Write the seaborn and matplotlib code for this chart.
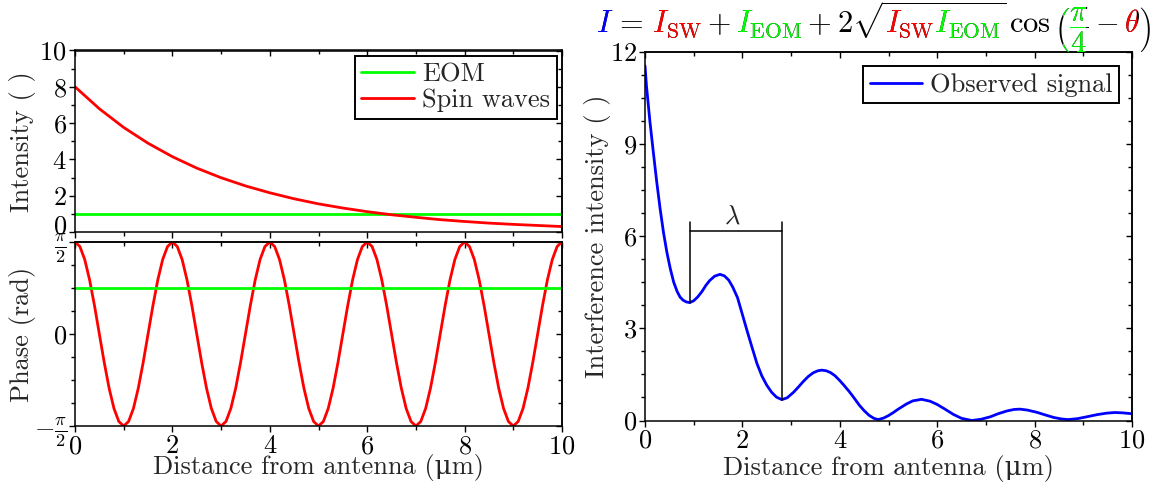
import numpy as np
import pandas as pd
import matplotlib
matplotlib.use("Agg")
import matplotlib.pyplot as plt
from matplotlib.ticker import MultipleLocator, FixedLocator, FixedFormatter
from matplotlib.transforms import Bbox, offset_copy
from matplotlib.font_manager import FontProperties
import seaborn as sns

# ---------------- data ----------------
spin_x = [0.0, 0.5, 1.0, 1.5, 2.0, 2.5, 3.0, 3.5, 4.0, 4.5, 5.0,
          5.5, 6.0, 6.5, 7.0, 7.5, 8.0, 8.5, 9.0, 9.5, 10.0]
spin_intensity = [8.00, 6.79, 5.76, 4.89, 4.15, 3.52, 2.99, 2.54, 2.16, 1.83, 1.55,
                  1.32, 1.12, 0.95, 0.81, 0.68, 0.58, 0.49, 0.42, 0.36, 0.30]
eom_x = [0.0, 10.0]
eom_intensity = [1.0, 1.0]

phase_x = [0.0, 0.1, 0.2, 0.3, 0.4, 0.5, 0.6, 0.7, 0.8, 0.9,
           1.0, 1.1, 1.2, 1.3, 1.4, 1.5, 1.6, 1.7, 1.8, 1.9,
           2.0, 2.1, 2.2, 2.3, 2.4, 2.5, 2.6, 2.7, 2.8, 2.9,
           3.0, 3.1, 3.2, 3.3, 3.4, 3.5, 3.6, 3.7, 3.8, 3.9,
           4.0, 4.1, 4.2, 4.3, 4.4, 4.5, 4.6, 4.7, 4.8, 4.9,
           5.0, 5.1, 5.2, 5.3, 5.4, 5.5, 5.6, 5.7, 5.8, 5.9,
           6.0, 6.1, 6.2, 6.3, 6.4, 6.5, 6.6, 6.7, 6.8, 6.9,
           7.0, 7.1, 7.2, 7.3, 7.4, 7.5, 7.6, 7.7, 7.8, 7.9,
           8.0, 8.1, 8.2, 8.3, 8.4, 8.5, 8.6, 8.7, 8.8, 8.9,
           9.0, 9.1, 9.2, 9.3, 9.4, 9.5, 9.6, 9.7, 9.8, 9.9, 10.0]
spin_phase = [1.571, 1.494, 1.271, 0.923, 0.485, 0.0, -0.485, -0.923, -1.271, -1.494,
              -1.571, -1.494, -1.271, -0.923, -0.485, 0.0, 0.485, 0.923, 1.271, 1.494,
              1.571, 1.494, 1.271, 0.923, 0.485, 0.0, -0.485, -0.923, -1.271, -1.494,
              -1.571, -1.494, -1.271, -0.923, -0.485, 0.0, 0.485, 0.923, 1.271, 1.494,
              1.571, 1.494, 1.271, 0.923, 0.485, 0.0, -0.485, -0.923, -1.271, -1.494,
              -1.571, -1.494, -1.271, -0.923, -0.485, 0.0, 0.485, 0.923, 1.271, 1.494,
              1.571, 1.494, 1.271, 0.923, 0.485, 0.0, -0.485, -0.923, -1.271, -1.494,
              -1.571, -1.494, -1.271, -0.923, -0.485, 0.0, 0.485, 0.923, 1.271, 1.494,
              1.571, 1.494, 1.271, 0.923, 0.485, 0.0, -0.485, -0.923, -1.271, -1.494,
              -1.571, -1.494, -1.271, -0.923, -0.485, 0.0, 0.485, 0.923, 1.271, 1.494,
              1.571]
eom_phase = [0.785, 0.785]

obs_x = [0.00, 0.03, 0.10, 0.17, 0.24, 0.31, 0.38, 0.45, 0.52, 0.59, 0.66, 0.72,
         0.78, 0.85, 0.92, 1.00, 1.08, 1.17, 1.25, 1.33, 1.43, 1.54, 1.63, 1.72,
         1.80, 1.90, 2.00, 2.10, 2.20, 2.30, 2.40, 2.50, 2.60, 2.70, 2.81, 2.92,
         3.05, 3.15, 3.25, 3.35, 3.45, 3.55, 3.63, 3.72, 3.81, 3.90, 4.00, 4.10,
         4.20, 4.30, 4.40, 4.50, 4.60, 4.70, 4.79, 4.90, 5.00, 5.10, 5.20, 5.37,
         5.50, 5.68, 5.85, 5.99, 6.15, 6.33, 6.50, 6.71, 6.90, 7.09, 7.25, 7.43,
         7.58, 7.70, 7.85, 8.04, 8.20, 8.39, 8.55, 8.69, 8.88, 9.07, 9.28, 9.48,
         9.65, 9.80, 10.00]
obs_signal = [11.55, 10.90, 9.75, 8.75, 7.78, 6.90, 6.12, 5.47, 4.94, 4.50, 4.20, 4.02,
              3.92, 3.86, 3.84, 3.90, 4.02, 4.20, 4.40, 4.56, 4.70, 4.76, 4.71, 4.57,
              4.35, 4.00, 3.45, 2.90, 2.37, 1.85, 1.45, 1.15, 0.92, 0.76, 0.68, 0.74,
              0.92, 1.09, 1.27, 1.43, 1.55, 1.62, 1.64, 1.62, 1.56, 1.46, 1.30, 1.12,
              0.93, 0.72, 0.50, 0.32, 0.17, 0.07, 0.03, 0.08, 0.16, 0.26, 0.37, 0.54,
              0.64, 0.69, 0.63, 0.53, 0.38, 0.20, 0.07, 0.00, 0.04, 0.12, 0.22, 0.31,
              0.36, 0.37, 0.34, 0.27, 0.19, 0.10, 0.05, 0.03, 0.06, 0.12, 0.19, 0.24,
              0.26, 0.25, 0.22]

lambda_x = [0.92, 2.81]      # the two minima marked by the lambda bracket
lambda_top = 6.47
lambda_bar = 6.17

xticks_major = [0, 2, 4, 6, 8, 10]
intensity_ticks = [0, 2, 4, 6, 8, 10]
phase_ticks = [-np.pi / 2, 0, np.pi / 2]
phase_labels = [r"$-\frac{\pi}{2}$", "0", r"$\frac{\pi}{2}$"]
interf_ticks = [0, 3, 6, 9, 12]

GREEN = "#00ff00"
RED = "#ff0000"
BLUE = "#0000ff"

# ---------------- style ----------------
sns.set_style("ticks")
FS = 19
plt.rcParams.update({
    "mathtext.fontset": "cm",
    "axes.formatter.use_mathtext": True,
    "axes.unicode_minus": False,
    "font.size": FS,
    "axes.linewidth": 1.1,
    "axes.edgecolor": "black",
    "xtick.color": "black",
    "ytick.color": "black",
    "xtick.major.size": 4.5,
    "ytick.major.size": 4.5,
    "xtick.minor.size": 3,
    "ytick.minor.size": 3,
    "xtick.major.width": 1.0,
    "ytick.major.width": 1.0,
    "xtick.minor.width": 1.0,
    "ytick.minor.width": 1.0,
    "xtick.major.pad": 1.5,
    "ytick.major.pad": 1.5,
    "xtick.labelsize": FS,
    "ytick.labelsize": FS,
    "axes.labelsize": FS,
    "legend.fontsize": FS,
})
plt.rcParams["font.family"] = ["cmr10", "DejaVu Serif"]

W, H = 1167, 491
fig = plt.figure(figsize=(W / 100, H / 100), dpi=100)
ax1 = fig.add_axes([75 / W, 1 - 232 / H, 487 / W, 181.5 / H])
ax2 = fig.add_axes([75 / W, 1 - 426 / H, 487 / W, 184 / H])
ax3 = fig.add_axes([645 / W, 1 - 420.5 / H, 487 / W, 368.5 / H])

LW = 2.0

# --- top-left: intensities
sns.lineplot(x=eom_x, y=eom_intensity, ax=ax1, color=GREEN, lw=LW, label="EOM")
sns.lineplot(x=spin_x, y=spin_intensity, ax=ax1, color=RED, lw=LW, label="Spin waves")
ax1.set_xlim(0, 10)
ax1.set_ylim(0, 10)
ax1.set_yticks(intensity_ticks)
ax1.yaxis.set_minor_locator(MultipleLocator(1))
ax1.set_xticks(xticks_major)
ax1.xaxis.set_minor_locator(MultipleLocator(1))
ax1.tick_params(axis="x", labelbottom=False)
ax1.set_ylabel("Intensity ( )")
ax1.set_xlabel("")

# --- bottom-left: phases
sns.lineplot(x=phase_x, y=spin_phase, ax=ax2, color=RED, lw=LW)
sns.lineplot(x=eom_x, y=eom_phase, ax=ax2, color=GREEN, lw=LW)
ax2.set_xlim(0, 10)
ax2.set_ylim(-np.pi / 2, np.pi / 2)
ax2.yaxis.set_major_locator(FixedLocator(phase_ticks))
ax2.yaxis.set_major_formatter(FixedFormatter(phase_labels))
ax2.yaxis.set_minor_locator(MultipleLocator(np.pi / 8))
ax2.set_xticks(xticks_major)
ax2.xaxis.set_minor_locator(MultipleLocator(1))
ax2.set_ylabel("Phase (rad)")
ax2.set_xlabel("Distance from antenna (μm)", labelpad=-3)

# --- right: observed
sns.lineplot(x=obs_x, y=obs_signal, ax=ax3, color=BLUE, lw=LW, label="Observed signal")
ax3.set_xlim(0, 10)
ax3.set_ylim(0, 12)
ax3.set_yticks(interf_ticks)
ax3.yaxis.set_minor_locator(MultipleLocator(0.75))
ax3.set_xticks(xticks_major)
ax3.xaxis.set_minor_locator(MultipleLocator(1))
ax3.set_ylabel("Interference intensity ( )")
ax3.set_xlabel("Distance from antenna (μm)", labelpad=2)

# lambda bracket
y_min_a = float(np.interp(lambda_x[0], obs_x, obs_signal))
y_min_b = float(np.interp(lambda_x[1], obs_x, obs_signal))
ax3.plot([lambda_x[0], lambda_x[0]], [y_min_a, lambda_top], color="black", lw=1.1)
ax3.plot([lambda_x[1], lambda_x[1]], [y_min_b, lambda_top], color="black", lw=1.1)
ax3.plot(lambda_x, [lambda_bar, lambda_bar], color="black", lw=1.1)
ax3.text(sum(lambda_x) / 2 - 0.08, lambda_bar + 0.08, r"$\lambda$", ha="center",
         va="bottom", fontsize=FS)

# ticks: outward left/bottom, inward top/right
for ax in (ax1, ax2, ax3):
    ax.tick_params(which="both", direction="out", left=True, bottom=True)
    sx = ax.secondary_xaxis("top")
    sx.set_xticks(xticks_major)
    sx.xaxis.set_minor_locator(MultipleLocator(1))
    sx.tick_params(which="both", direction="in", labeltop=False)
    sy = ax.secondary_yaxis("right")
    sy.yaxis.set_major_locator(FixedLocator(ax.get_yticks()))
    sy.yaxis.set_minor_locator(ax.yaxis.get_minor_locator())
    sy.tick_params(which="both", direction="in", labelright=False)

for ax in (ax1, ax2):
    ax.yaxis.set_label_coords(-0.08, 0.5)
ax3.yaxis.set_label_coords(-0.07, 0.5)

# the "0" label of the top-left panel sits slightly above its tick in the reference
fig.canvas.draw()
for lab in ax1.get_yticklabels():
    if lab.get_text() in ("0", r"$\mathdefault{0}$"):
        lab.set_transform(offset_copy(lab.get_transform(), fig=fig, x=0, y=8, units="dots"))

# legends
leg_kw = dict(frameon=True, fancybox=False, framealpha=1, edgecolor="black",
              borderpad=0.25, labelspacing=0.1, handletextpad=0.3,
              handlelength=2.0, borderaxespad=0.2, fontsize=FS)
l1 = ax1.legend(loc="upper right", **leg_kw)
l1.get_frame().set_linewidth(1.4)
l3 = ax3.legend(loc="upper right", bbox_to_anchor=(0.985, 0.975), **leg_kw)
l3.get_frame().set_linewidth(1.4)
if ax2.get_legend() is not None:
    ax2.get_legend().remove()

# ---------------- coloured equation above the right panel ----------------
EQ_FS = 22
P_I = r"I"
P_EQ = r"\,=\,"
P_SW = r"I_{\mathrm{SW}}"
P_EOM = r"I_{\mathrm{EOM}}"
P_SQ = r"2\sqrt{I_{\mathrm{SW}}I_{\mathrm{EOM}}}"
P_COS = r"\,\cos\left(\dfrac{\pi}{4} - \theta\right)"
EQ = "$" + P_I + P_EQ + P_SW + " + " + P_EOM + " + " + P_SQ + P_COS + "$"
eq_x, eq_base = 873 / W, 1 - 34 / H

renderer = fig.canvas.get_renderer()
fp = FontProperties(size=EQ_FS)


def mw(s):
    w, h, d = renderer.get_text_width_height_descent("$" + s + "$", fp, ismath=True)
    return w, h - d, d


t_main = fig.text(eq_x, eq_base, EQ, fontsize=EQ_FS, ha="center", va="baseline",
                  color="black")
bb = t_main.get_window_extent(renderer)
L = bb.x0
R = bb.x1
base_px = eq_base * fig.bbox.height
y_lo = bb.y0 - 5
y_hi = bb.y1 + 5

thick = (0.75 / 12.0) * EQ_FS * fig.dpi / 72.0
pad = 2 * thick

w_I = mw(P_I)[0]
w_p1 = mw(P_I + P_EQ)[0]
w_p2 = mw(P_I + P_EQ + P_SW)[0]
w_p3 = mw(P_I + P_EQ + P_SW + " +")[0]
w_p4 = mw(P_I + P_EQ + P_SW + " + " + P_EOM)[0]
w_p5 = mw(P_I + P_EQ + P_SW + " + " + P_EOM + " + " + P_SQ)[0]
w_c, asc_c, _ = mw(P_SW + P_EOM)
w_eom = mw(P_EOM)[0]
w_frac = mw(r"\dfrac{\pi}{4}")[0]
w_parfrac = mw(r"\left(\dfrac{\pi}{4}\right)")[0]
w_fmt = mw(r"\dfrac{\pi}{4} - \theta")[0]
w_th = mw(r"\theta")[0]
par = (w_parfrac - w_frac) / 2

c_end = L + w_p5 - pad
c_start = c_end - w_c
g2_start = c_end - w_eom
rule_clip = base_px + asc_c + 2.0

th_right = R - par
th_left = th_right - w_th
fr_right = th_right - (w_fmt - w_frac)
fr_left = fr_right - w_frac

regions = [
    (BLUE, L - 3, L + w_I + 1.5, y_hi),
    (RED, L + w_p1 - 1.5, L + w_p2 + 1.5, y_hi),
    (GREEN, L + w_p3 - 1.5, L + w_p4 + 1.5, y_hi),
    (RED, c_start - pad * 0.5, g2_start - 0.5, rule_clip),
    (GREEN, g2_start - 0.5, c_end + pad * 0.6, rule_clip),
    (GREEN, fr_left - 2, fr_right + 2, y_hi),
    (RED, th_left - 2.5, th_right + 1, y_hi),
]
for col, x0, x1, ytop in regions:
    t = fig.text(eq_x, eq_base, EQ, fontsize=EQ_FS, ha="center", va="baseline",
                 color=col)
    t.set_clip_box(Bbox.from_extents(x0, y_lo, x1, ytop))
    t.set_clip_on(True)

fig.savefig("out.png", dpi=100)
